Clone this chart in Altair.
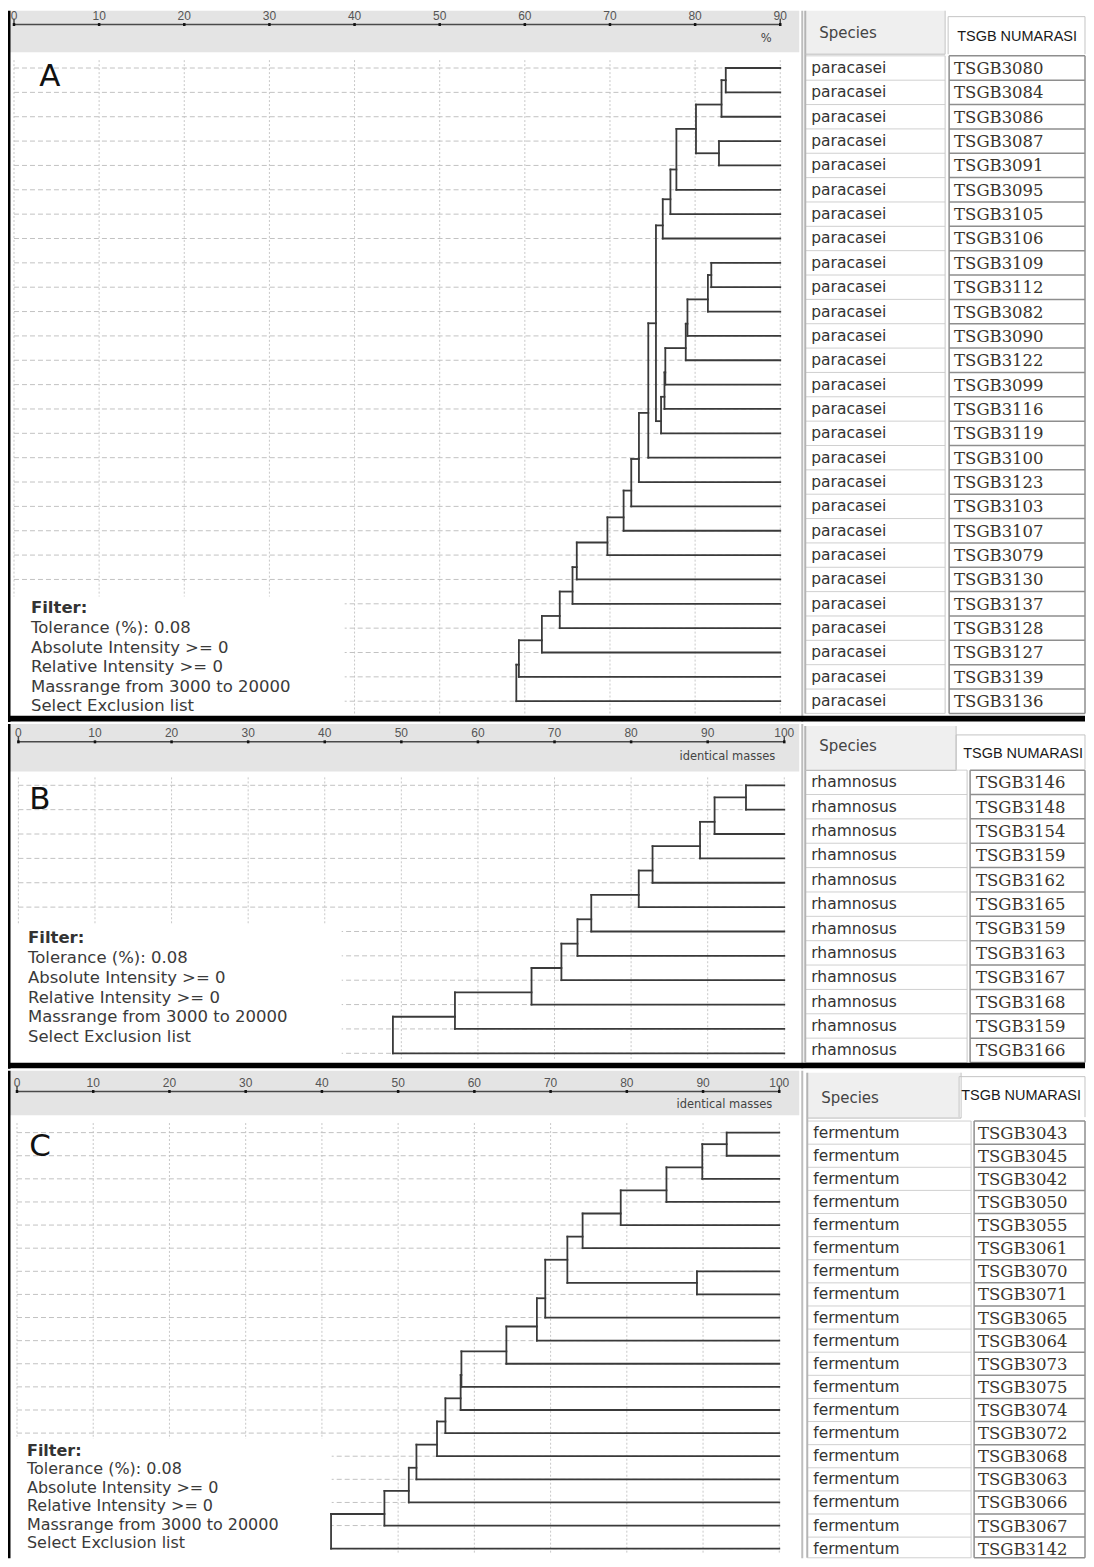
import altair as alt
import pandas as pd

# ---------------- data ----------------
A_SPECIES = ["paracasei"] * 27
A_IDS = ["TSGB3080", "TSGB3084", "TSGB3086", "TSGB3087", "TSGB3091", "TSGB3095",
         "TSGB3105", "TSGB3106", "TSGB3109", "TSGB3112", "TSGB3082", "TSGB3090",
         "TSGB3122", "TSGB3099", "TSGB3116", "TSGB3119", "TSGB3100", "TSGB3123",
         "TSGB3103", "TSGB3107", "TSGB3079", "TSGB3130", "TSGB3137", "TSGB3128",
         "TSGB3127", "TSGB3139", "TSGB3136"]
# merges: leaves are 0..n-1, merge k creates node n+k
A_MERGE_A = [0, 27, 3, 28, 30, 31, 32, 8, 34, 35, 36, 37, 38, 39, 33, 41, 42,
             43, 44, 45, 46, 47, 48, 49, 50, 51]
A_MERGE_B = [1, 2, 4, 29, 5, 6, 7, 9, 10, 11, 12, 13, 14, 15, 40, 16, 17,
             18, 19, 20, 21, 22, 23, 24, 25, 26]
A_MERGE_H = [83.6, 83.1, 82.8, 80.1, 77.8, 77.1, 76.2, 81.9, 81.5, 79.1, 78.9,
             76.5, 76.4, 76.0, 75.4, 74.5, 73.4, 72.5, 71.6, 69.7, 66.1, 65.6,
             64.1, 62.0, 59.3, 59.0]
A_TICKS = [0, 10, 20, 30, 40, 50, 60, 70, 80, 90]

B_SPECIES = ["rhamnosus"] * 12
B_IDS = ["TSGB3146", "TSGB3148", "TSGB3154", "TSGB3159", "TSGB3162", "TSGB3165",
         "TSGB3159", "TSGB3163", "TSGB3167", "TSGB3168", "TSGB3159", "TSGB3166"]
B_MERGE_A = [0, 12, 13, 14, 15, 16, 17, 18, 19, 20, 21]
B_MERGE_B = [1, 2, 3, 4, 5, 6, 7, 8, 9, 10, 11]
B_MERGE_H = [95.0, 90.9, 89.0, 82.8, 81.0, 74.8, 73.0, 70.9, 67.0, 57.0, 48.9]
B_TICKS = [0, 10, 20, 30, 40, 50, 60, 70, 80, 90, 100]

C_SPECIES = ["fermentum"] * 19
C_IDS = ["TSGB3043", "TSGB3045", "TSGB3042", "TSGB3050", "TSGB3055", "TSGB3061",
         "TSGB3070", "TSGB3071", "TSGB3065", "TSGB3064", "TSGB3073", "TSGB3075",
         "TSGB3074", "TSGB3072", "TSGB3068", "TSGB3063", "TSGB3066", "TSGB3067",
         "TSGB3142"]
C_MERGE_A = [0, 19, 20, 21, 22, 6, 23, 25, 26, 27, 28, 29, 30, 31, 32, 33, 34, 35]
C_MERGE_B = [1, 2, 3, 4, 5, 7, 24, 8, 9, 10, 11, 12, 13, 14, 15, 16, 17, 18]
C_MERGE_H = [93.1, 89.9, 85.2, 79.2, 74.2, 89.2, 72.2, 69.3, 68.2, 64.2, 58.3,
             58.2, 56.2, 55.1, 52.4, 51.4, 48.2, 41.2]
C_TICKS = [0, 10, 20, 30, 40, 50, 60, 70, 80, 90, 100]

FILTER_LINES = ["Filter:", "Tolerance (%): 0.08", "Absolute Intensity >= 0",
                "Relative Intensity >= 0", "Massrange from 3000 to 20000",
                "Select Exclusion list"]
HEADER_SPECIES = "Species"
HEADER_ID = "TSGB NUMARASI"

# ---------------- layout (reference pixel geometry) ----------------
W = 1078          # chart covers reference x 8..1086
XL, XR = 8, 8 + W

CFG_A = dict(top=4, bot=724, H=712, x0=14, k=8.522, y0=62, pitch=24.65,
             strip=(4, 46), ruler=18, title="%", title_x=767, title_y=33, title_align="center",
             letter=("A", 50, 71), fx=31, fy0=609, fdy=19.8, ffs=16.5,
             fbox=(11, 345, 597, 716), grid=(54, 716),
             sp_hdr=(806, 946, 4, 48), ts_hdr=(949, 1092, 10, 48),
             sp_hdr_t=(820, 27), ts_hdr_t=(1018, 31),
             sp_col=(806, 946), ts_col=(950, 1092), sp_tx=812, ts_tx=955,
             sp_off=0, ts_off=1, tb_off=0, bar=(717.5, 723.5))
CFG_B = dict(top=724, bot=1073, H=345, x0=18.4, k=7.666, y0=786, pitch=24.67,
             strip=(724, 772), ruler=742, title="identical masses", title_x=776, title_y=757,
             title_align="right",
             letter=("B", 40, 801), fx=28, fy0=941, fdy=20, ffs=16.5,
             fbox=(11, 342, 927, 1066), grid=(778, 1063),
             sp_hdr=(806, 957, 726, 771), ts_hdr=(957, 1094, 735, 770),
             sp_hdr_t=(820, 746), ts_hdr_t=(1024, 754),
             sp_col=(806, 968), ts_col=(971, 1094), sp_tx=812, ts_tx=977,
             sp_off=-3, ts_off=-2, tb_off=-3, bar=(1067, 1072.5))
CFG_C = dict(top=1073, bot=1567, H=488, x0=17, k=7.63, y0=1135.7, pitch=23.42,
             strip=(1073, 1118), ruler=1094, title="identical masses", title_x=773, title_y=1108,
             title_align="right",
             letter=("C", 40, 1150), fx=27, fy0=1458, fdy=18.8, ffs=16,
             fbox=(11, 332, 1446, 1567), grid=(1126, 1562),
             sp_hdr=(808, 962, 1075, 1121), ts_hdr=(960, 1094, 1079, 1120),
             sp_hdr_t=(822, 1101), ts_hdr_t=(1022, 1099),
             sp_col=(808, 972), ts_col=(975, 1094), sp_tx=814, ts_tx=979,
             sp_off=0, ts_off=1, tb_off=0, bar=None)


def tree_segments(n, ma, mb, mh, leaf_end, rows):
    nx, ny = {}, {}
    segs = []
    for k, (a, b, h) in enumerate(zip(ma, mb, mh)):
        cys, ws = [], []
        for c in (a, b):
            if c < n:
                cx, cy, w = leaf_end, rows[c], 2.0
            else:
                cx, cy, w = nx[c], ny[c], 1.0
            segs.append({"x": h, "x2": cx, "y": cy, "y2": cy})
            cys.append(cy)
            ws.append(w)
        segs.append({"x": h, "x2": h, "y": min(cys), "y2": max(cys)})
        nx[n + k] = h
        ny[n + k] = (cys[0] * ws[0] + cys[1] * ws[1]) / (ws[0] + ws[1])
    return pd.DataFrame(segs)


def panel(cfg, species, ids, ma, mb, mh, ticks):
    top, bot, H = cfg["top"], cfg["bot"], cfg["H"]
    X0, K = cfg["x0"], cfg["k"]

    def ux(X):
        return (X - X0) / K

    xsc = alt.Scale(domain=[ux(XL), ux(XR)], nice=False, zero=False, clamp=True)
    ysc = alt.Scale(domain=[top, bot], nice=False, zero=False, reverse=True, clamp=True)
    n = len(ids)
    vmax = ticks[-1]
    rows = [cfg["y0"] + i * cfg["pitch"] for i in range(n)]

    def enc4():
        return dict(x=alt.X("x:Q", scale=xsc, axis=None), x2="x2:Q",
                    y=alt.Y("y:Q", scale=ysc, axis=None), y2="y2:Q")

    def enc_t():
        return dict(x=alt.X("x:Q", scale=xsc, axis=None),
                    y=alt.Y("y:Q", scale=ysc, axis=None), text="t:N")

    def rect(X1, X2, Y1, Y2, c):
        return {"x": ux(X1), "x2": ux(X2), "y": Y1, "y2": Y2, "c": c}

    def rule(X1, X2, Y1, Y2, c, w):
        return {"x": ux(X1), "x2": ux(X2), "y": Y1, "y2": Y2, "c": c, "w": w}

    def text_layer(xs, ys, ts, **style):
        d = pd.DataFrame({"x": xs, "y": ys, "t": ts})
        return alt.Chart(d).mark_text(baseline="middle", **style).encode(**enc_t())

    # background rectangles
    sh, th = cfg["sp_hdr"], cfg["ts_hdr"]
    bg = pd.DataFrame([
        rect(8, 800, cfg["strip"][0], cfg["strip"][1], "#e4e4e4"),
        rect(sh[0], sh[1], sh[2], sh[3], "#efefef"),
        rect(th[0], th[1], th[2], th[3], "#ffffff"),
    ])
    layers = [alt.Chart(bg).mark_rect(strokeWidth=0).encode(
        color=alt.Color("c:N", scale=None), **enc4())]

    # vertical dotted grid
    g0, g1 = cfg["grid"]
    grid = pd.DataFrame({"x": ticks, "x2": ticks, "y": [g0] * len(ticks), "y2": [g1] * len(ticks)})
    layers.append(alt.Chart(grid).mark_rule(color="#c8c8c8", strokeWidth=1, strokeDash=[2, 2]).encode(**enc4()))

    # dashed row guides
    rd = pd.DataFrame({"x": [0] * n, "x2": [vmax] * n, "y": rows, "y2": rows})
    layers.append(alt.Chart(rd).mark_rule(color="#c2c2c2", strokeWidth=1, strokeDash=[5, 3]).encode(**enc4()))

    # white box behind the filter text
    fb = cfg["fbox"]
    fbd = pd.DataFrame([rect(fb[0], fb[1], fb[2], fb[3], "#ffffff")])
    layers.append(alt.Chart(fbd).mark_rect(strokeWidth=0).encode(
        color=alt.Color("c:N", scale=None), **enc4()))

    # dendrogram
    tree = tree_segments(n, ma, mb, mh, vmax, rows)
    layers.append(alt.Chart(tree).mark_rule(color="#3a3a3a", strokeWidth=1.8, strokeCap="square").encode(
        **enc4()))

    # ruler (scale line, ticks, labels, unit title)
    r = cfg["ruler"]
    rl = pd.DataFrame({"x": [0, 0, vmax], "x2": [vmax, 0, vmax],
                       "y": [r, r - 6, r - 6], "y2": [r, r + 1, r + 1]})
    layers.append(alt.Chart(rl).mark_rule(color="#4a4a4a", strokeWidth=1.5).encode(**enc4()))
    tk = pd.DataFrame({"x": ticks, "x2": ticks, "y": [r - 1.5] * len(ticks), "y2": [r + 1.5] * len(ticks)})
    layers.append(alt.Chart(tk).mark_rule(color="#111111", strokeWidth=2.5).encode(**enc4()))
    layers.append(text_layer(ticks, [r - 9] * len(ticks), [str(t) for t in ticks],
                             align="center", font="Liberation Sans", fontSize=12, color="#555555"))
    layers.append(text_layer([ux(cfg["title_x"])], [cfg["title_y"]], [cfg["title"]],
                             align=cfg["title_align"], font="DejaVu Sans", fontSize=11.5, color="#444444"))

    # table lines, borders and bars
    p = cfg["pitch"]
    b0 = cfg["y0"] + cfg["tb_off"] - p / 2
    bounds = [min(b0 + j * p, bot - 0.5) for j in range(n + 1)]
    sc, tc = cfg["sp_col"], cfg["ts_col"]
    rules = []
    for b in bounds:
        rules.append(rule(sc[0], sc[1], b, b, "#d0d0d0", 1))
        rules.append(rule(tc[0], tc[1], b, b, "#8e8e8e", 1.5))
    rules += [
        rule(sc[0], sc[0], sh[2], bounds[-1], "#b4b4b4", 2),
        rule(sc[1], sc[1], bounds[0], bounds[-1], "#c8c8c8", 1),
        rule(tc[0], tc[0], bounds[0], bounds[-1], "#8e8e8e", 1.5),
        rule(tc[1], tc[1], bounds[0], bounds[-1], "#8e8e8e", 1.5),
        rule(sh[0], sh[1], sh[3], sh[3], "#bdbdbd", 1),
        rule(sh[1], sh[1], sh[2], sh[3], "#c4c4c4", 1),
        rule(th[0], th[1], th[2], th[2], "#c4c4c4", 1),
        rule(th[0], th[0], th[2], th[3], "#c4c4c4", 1),
        rule(th[1], th[1], th[2], th[3], "#c4c4c4", 1),
        rule(803, 803, top, bot, "#bdbdbd", 2),
    ]
    rdf = pd.DataFrame(rules)
    layers.append(alt.Chart(rdf).mark_rule().encode(
        color=alt.Color("c:N", scale=None), strokeWidth=alt.StrokeWidth("w:Q", scale=None), **enc4()))

    fg = [rect(8, 10.5, top, bot, "#000000")]
    if cfg["bar"]:
        fg.append(rect(8, 1094, cfg["bar"][0], cfg["bar"][1], "#000000"))
    layers.append(alt.Chart(pd.DataFrame(fg)).mark_rect(strokeWidth=0).encode(
        color=alt.Color("c:N", scale=None), **enc4()))

    # texts
    lt = cfg["letter"]
    layers.append(text_layer([ux(lt[1])], [lt[2]], [lt[0]], align="center", font="DejaVu Sans",
                             fontSize=31, color="#111111"))
    fx = ux(cfg["fx"])
    fys = [cfg["fy0"] + i * cfg["fdy"] for i in range(len(FILTER_LINES))]
    layers.append(text_layer([fx], [fys[0]], [FILTER_LINES[0]], align="left", font="DejaVu Sans",
                             fontSize=cfg["ffs"], fontWeight="bold", color="#333333"))
    layers.append(text_layer([fx] * 5, fys[1:], FILTER_LINES[1:], align="left", font="DejaVu Sans",
                             fontSize=cfg["ffs"], color="#3a3a3a"))
    layers.append(text_layer([ux(cfg["sp_hdr_t"][0])], [cfg["sp_hdr_t"][1]], [HEADER_SPECIES],
                             align="left", font="DejaVu Sans", fontSize=15, color="#444444"))
    layers.append(text_layer([ux(cfg["ts_hdr_t"][0])], [cfg["ts_hdr_t"][1]], [HEADER_ID],
                             align="center", font="Liberation Sans", fontSize=14.5, color="#1a1a1a"))
    layers.append(text_layer([ux(cfg["sp_tx"])] * n, [y + cfg["sp_off"] for y in rows], species,
                             align="left", font="DejaVu Sans", fontSize=15.5, color="#333333"))
    layers.append(text_layer([ux(cfg["ts_tx"])] * n, [y + cfg["ts_off"] for y in rows], ids,
                             align="left", font="DejaVu Serif", fontSize=16.5, color="#3a352e"))

    return alt.layer(*layers).properties(width=W, height=H)


pA = panel(CFG_A, A_SPECIES, A_IDS, A_MERGE_A, A_MERGE_B, A_MERGE_H, A_TICKS)
pB = panel(CFG_B, B_SPECIES, B_IDS, B_MERGE_A, B_MERGE_B, B_MERGE_H, B_TICKS)
pC = panel(CFG_C, C_SPECIES, C_IDS, C_MERGE_A, C_MERGE_B, C_MERGE_H, C_TICKS)

chart = alt.vconcat(pA, pB, pC, spacing=0).properties(
    padding=0, background="white"
).configure_view(stroke=None)

chart.save("out.html", embed_options={"renderer": "svg", "actions": False})
